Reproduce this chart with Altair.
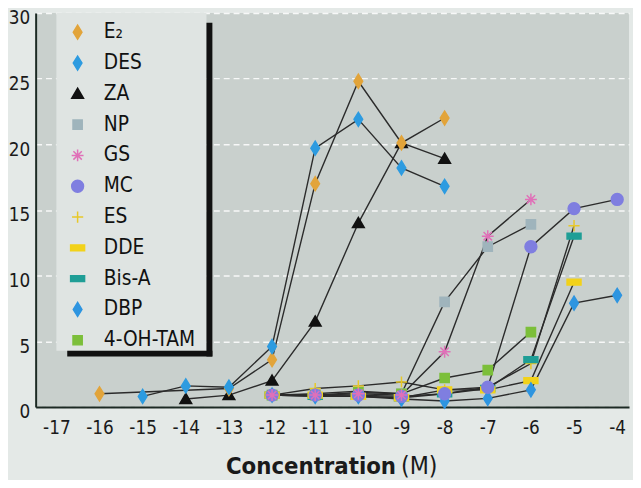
import altair as alt
import pandas as pd

# ---- data ----
series = ["E₂", "DES", "ZA", "NP", "GS", "MC", "ES", "DDE", "Bis-A", "DBP", "4-OH-TAM"]

e2_x = [-16, -13, -12, -11, -10, -9, -8]
e2_y = [1.0, 1.4, 3.6, 17.0, 24.8, 20.1, 22.0]
des_x = [-15, -14, -13, -12, -11, -10, -9, -8]
des_y = [0.8, 1.6, 1.5, 4.6, 19.7, 21.9, 18.2, 16.8]
za_x = [-14, -13, -12, -11, -10, -9, -8]
za_y = [0.6, 0.9, 2.0, 6.5, 14.0, 20.1, 18.9]
np_x = [-12, -11, -10, -9, -8, -7, -6]
np_y = [0.9, 1.0, 1.2, 1.0, 8.0, 12.2, 13.9]
gs_x = [-12, -11, -10, -9, -8, -7, -6]
gs_y = [0.9, 0.9, 1.0, 0.9, 4.2, 13.0, 15.8]
mc_x = [-12, -11, -10, -9, -8, -7, -6, -5, -4]
mc_y = [0.9, 0.9, 0.9, 0.8, 1.0, 1.5, 12.2, 15.1, 15.8]
es_x = [-12, -11, -10, -9, -8, -7, -6, -5]
es_y = [0.9, 1.4, 1.6, 1.9, 1.3, 1.5, 3.3, 13.8]
dde_x = [-12, -11, -10, -9, -8, -7, -6, -5]
dde_y = [0.9, 0.9, 0.8, 0.7, 1.3, 1.3, 2.0, 9.5]
bis_x = [-12, -11, -10, -9, -8, -7, -6, -5]
bis_y = [0.9, 0.8, 0.8, 0.7, 1.0, 1.4, 3.6, 13.0]
dbp_x = [-12, -11, -10, -9, -8, -7, -6, -5, -4]
dbp_y = [0.9, 0.8, 0.8, 0.6, 0.45, 0.65, 1.3, 7.9, 8.5]
tam_x = [-12, -11, -10, -9, -8, -7, -6]
tam_y = [0.9, 0.9, 1.1, 1.0, 2.2, 2.8, 5.7]

x_ticks = list(range(-17, -3))
y_ticks = [0, 5, 10, 15, 20, 25, 30]

colors = ["#e2a43a", "#2d9be0", "#111111", "#9fb4bc", "#e070b8", "#7f7ee0",
          "#e8c828", "#f2d21a", "#1f9e96", "#2e95e0", "#7cbf3a"]

diamond = "M0,-1L0.62,0L0,1L-0.62,0Z"
triangle = "M0,-0.8L0.84,0.64L-0.84,0.64Z"
square = "M-0.66,-0.66L0.66,-0.66L0.66,0.66L-0.66,0.66Z"
asterisk = "M-0.85,0L0.85,0M0,-0.85L0,0.85M-0.6,-0.6L0.6,0.6M-0.6,0.6L0.6,-0.6"
circle = "M-0.85,0A0.85,0.85,0,1,0,0.85,0A0.85,0.85,0,1,0,-0.85,0Z"
plus = "M-0.8,0L0.8,0M0,-0.8L0,0.8"
bar = "M-1,-0.42L1,-0.42L1,0.42L-1,0.42Z"
shapes = [diamond, diamond, triangle, square, asterisk, circle, plus, bar, bar, diamond, square]

# drawing order (later on top)
draw_order = [("NP", np_x, np_y), ("4-OH-TAM", tam_x, tam_y), ("ES", es_x, es_y),
              ("Bis-A", bis_x, bis_y), ("DDE", dde_x, dde_y), ("DBP", dbp_x, dbp_y),
              ("MC", mc_x, mc_y), ("GS", gs_x, gs_y), ("ZA", za_x, za_y),
              ("E₂", e2_x, e2_y), ("DES", des_x, des_y)]

rows = []
for name, xs, ys in draw_order:
    for xv, yv in zip(xs, ys):
        rows.append({"series": name, "conc": xv, "value": yv})
df = pd.DataFrame(rows)

FONT = "DejaVu Sans Condensed, Liberation Sans Narrow, Liberation Sans, sans-serif"
INK = "#1a1a1a"
neg_label = "datum.value < 0 ? '-' + abs(datum.value) : '' + datum.value"

x_enc = alt.X("conc:Q",
              scale=alt.Scale(domain=[-17.48, -3.725], nice=False, zero=False),
              axis=alt.Axis(values=x_ticks, title="", grid=False, ticks=False,
                            labelExpr=neg_label,
                            labelFontSize=19, labelPadding=12, labelFlush=False,
                            labelFont=FONT, labelColor=INK,
                            domainColor="#1c2a24", domainWidth=2))
y_enc = alt.Y("value:Q",
              scale=alt.Scale(domain=[0, 30], nice=False),
              axis=alt.Axis(values=y_ticks, title="", grid=True, ticks=False,
                            gridColor="#ffffff", gridDash=[6, 4], gridWidth=1.5,
                            gridOpacity=0.85, labelFontSize=19, labelPadding=6,
                            labelOffset=5,
                            labelFont=FONT, labelColor=INK,
                            domainColor="#1c2a24", domainWidth=2))

base = alt.Chart(df)

lines = base.mark_line(strokeWidth=1.4, color="#2b2b2b").encode(
    x=x_enc, y=y_enc, detail="series:N", order="conc:Q")

leg = alt.Legend(orient="none", legendX=32, legendY=9, title=None,
                 padding=0, rowPadding=9.2,
                 labelFontSize=21, labelFont=FONT, labelColor="#111111",
                 labelOffset=16, symbolSize=200, symbolStrokeWidth=1.5)

points = base.mark_point(filled=True, size=200, strokeWidth=1.5, opacity=1).encode(
    x=x_enc, y=y_enc,
    shape=alt.Shape("series:N", scale=alt.Scale(domain=series, range=shapes), legend=leg),
    fill=alt.Fill("series:N", scale=alt.Scale(domain=series, range=colors), legend=leg),
    stroke=alt.Stroke("series:N", scale=alt.Scale(domain=series, range=colors), legend=leg),
)

one = pd.DataFrame({"a": [0]})
legend_box = alt.Chart(one).mark_rect(color="#dfe4e2").encode(
    x=alt.value(21), x2=alt.value(173), y=alt.value(0), y2=alt.value(342))
shadow_r = alt.Chart(one).mark_rect(color="#111111").encode(
    x=alt.value(173), x2=alt.value(179), y=alt.value(10), y2=alt.value(348))
shadow_b = alt.Chart(one).mark_rect(color="#111111").encode(
    x=alt.value(32), x2=alt.value(179), y=alt.value(342), y2=alt.value(348))

title1 = alt.Chart(pd.DataFrame({"t": ["Concentration"]})).mark_text(
    align="right", baseline="alphabetic", fontSize=24, fontWeight="bold",
    font=FONT, color=INK).encode(x=alt.value(365), y=alt.value(467), text="t:N")
title2 = alt.Chart(pd.DataFrame({"t": ["(M)"]})).mark_text(
    align="left", baseline="alphabetic", fontSize=25, fontWeight="normal",
    font=FONT, color=INK).encode(x=alt.value(370), y=alt.value(467), text="t:N")

chart = alt.layer(legend_box, shadow_r, shadow_b, lines, points, title1, title2).properties(
    width=601, height=399,
    padding={"left": 28, "top": 2, "right": 4, "bottom": 71},
    autosize=alt.AutoSizeParams(type="none"),
).configure(background="#e4e9e7").configure_view(fill="#c9d0cd", strokeWidth=0)

chart.save("out.html", embed_options={"renderer": "svg", "actions": False})
